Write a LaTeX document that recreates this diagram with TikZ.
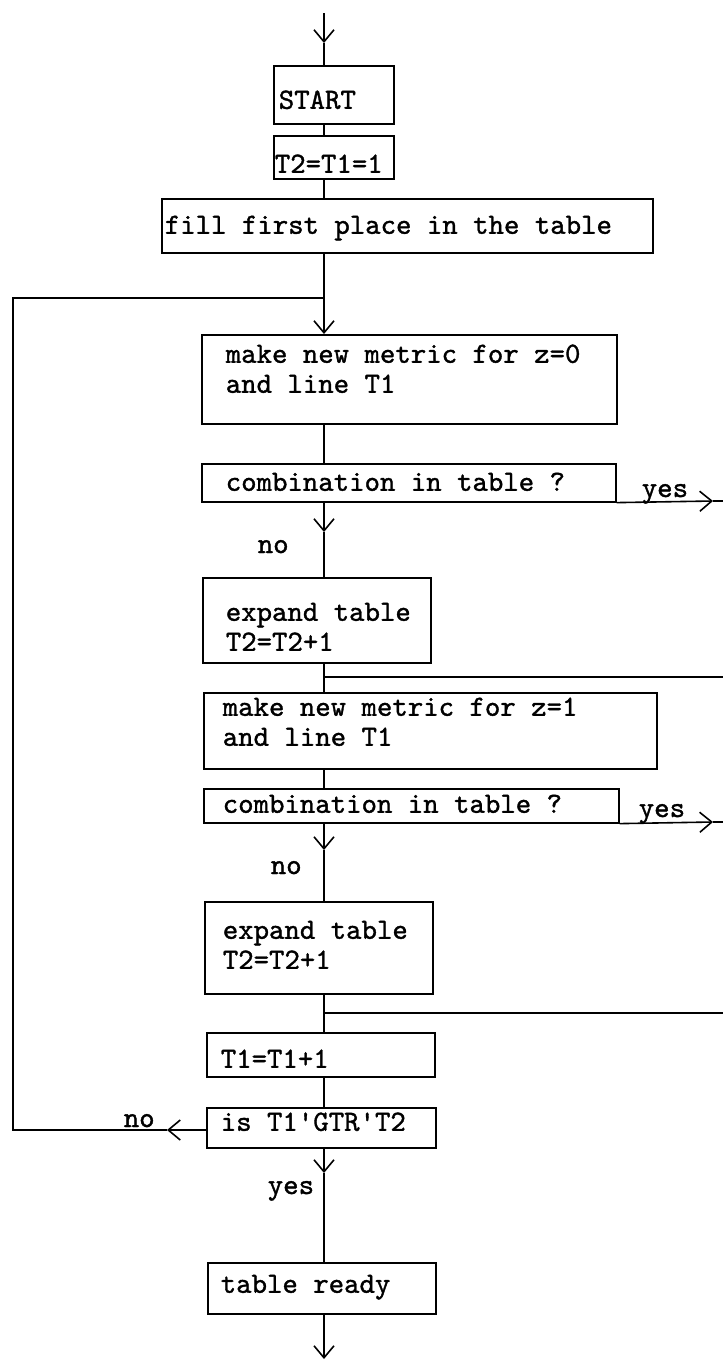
\documentclass[tikz,border=0pt]{standalone}
\usepackage{fontspec}
\setmonofont{lmmono10-regular.otf}[FakeBold=1.2]
\usetikzlibrary{arrows.meta}
\begin{document}
\begin{tikzpicture}[x=1pt,y=-1pt,line width=1.6pt,
  tw/.style={font=\ttfamily\fontsize{29.37}{30}\selectfont},
  box/.style n args={5}{draw,rectangle,anchor=north west,tw,align=left,
     inner xsep=0pt,inner ysep=0pt,text width=#1pt,minimum width=#1pt,
     minimum height=#2pt,text height=#4pt,text depth=#5pt,
     execute at begin node={\leftskip=#3pt\spaceskip=15.42pt\xspaceskip=15.42pt}},
  lab/.style={tw,anchor=base west,inner sep=0pt},
  arr/.style={-{Straight Barb[length=12pt,width=20pt]}}]
\useasboundingbox (0,0) rectangle (723,1361);

% boxes: width, height, left pad, first baseline from top, rest
\node[box={120}{58}{5}{43}{15}]   (start) at (273,65)   {START};
\node[box={120}{43}{1}{37}{6}]    (t21)   at (273,135)  {T2=T1=1};
\node[box={491}{54}{3}{35}{19}]   (fill)  at (161,198)  {fill first place in the table};
\node[box={415}{89}{24}{28}{61}]  (m0)    at (201,334)  {make new metric for z=0\\and line T1};
\node[box={414}{38}{24}{27}{11}]  (c0)    at (201,463)  {combination in table ?};
\node[box={228}{85}{23}{43}{42}]  (e0)    at (202,577)  {expand table\\T2=T2+1};
\node[box={453}{76}{19}{23}{53}]  (m1)    at (203,692)  {make new metric for z=1\\and line T1};
\node[box={415}{34}{19}{24}{10}]  (c1)    at (203,788)  {combination in table ?};
\node[box={228}{92}{18}{37}{55}]  (e1)    at (204,901)  {expand table\\T2=T2+1};
\node[box={228}{44}{14}{35}{9}]   (t1)    at (206,1032) {T1=T1+1};
\node[box={229}{40}{14}{23}{17}]  (gtr)   at (206,1107) {is T1'GTR'T2};
\node[box={228}{51}{13}{30}{21}]  (ready) at (207,1262) {table ready};

% labels
\node[lab] (no1)  at (257,553)  {no};
\node[lab] (yes1) at (641,497)  {yes};
\node[lab] (no2)  at (270,874)  {no};
\node[lab] (yes2) at (638,817)  {yes};
\node[lab] (no3)  at (123,1127) {no};
\node[lab] (yes3) at (267,1194) {yes};

% coordinates
\coordinate (top0) at (324,13);
\coordinate (top1) at (324,43);
\coordinate (j0)   at (324,298);
\coordinate (a1)   at (324,532);
\coordinate (y1)   at (713,501);
\coordinate (y1e)  at (723,501);
\coordinate (j1)   at (324,677);
\coordinate (j1e)  at (723,677);
\coordinate (a2)   at (324,850);
\coordinate (y2)   at (713,822);
\coordinate (y2e)  at (723,822);
\coordinate (j2)   at (324,1013);
\coordinate (j2e)  at (723,1013);
\coordinate (a3)   at (167,1130);
\coordinate (lc)   at (13,298);
\coordinate (a4)   at (324,1173);
\coordinate (endc) at (324,1359);

% main flow
\draw[arr] (top0) -- (top1);
\draw (top1) -- (top1 |- start.north);
\draw (top0 |- start.south) -- (top0 |- t21.north);
\draw (top0 |- t21.south) -- (top0 |- fill.north);
\draw (top0 |- fill.south) -- (j0);
\draw[arr] (j0) -- (top0 |- m0.north);
\draw (top0 |- m0.south) -- (top0 |- c0.north);
\draw[arr] (top0 |- c0.south) -- (a1);
\draw (a1) -- (top0 |- e0.north);
\draw[arr] (c0.south east) -- (y1);
\draw (y1) -- (y1e);
\draw (top0 |- e0.south) -- (top0 |- m1.north);
\draw (j1) -- (j1e);
\draw (top0 |- m1.south) -- (top0 |- c1.north);
\draw[arr] (top0 |- c1.south) -- (a2);
\draw (a2) -- (top0 |- e1.north);
\draw[arr] (c1.south east) -- (y2);
\draw (y2) -- (y2e);
\draw (top0 |- e1.south) -- (top0 |- t1.north);
\draw (j2) -- (j2e);
\draw (top0 |- t1.south) -- (top0 |- gtr.north);
\draw[arr] (gtr.west |- a3) -- (a3);
\draw (a3) -- (lc |- a3) -- (lc) -- (j0);
\draw[arr] (top0 |- gtr.south) -- (a4);
\draw (a4) -- (top0 |- ready.north);
\draw[arr] (top0 |- ready.south) -- (endc);
\end{tikzpicture}
\end{document}
